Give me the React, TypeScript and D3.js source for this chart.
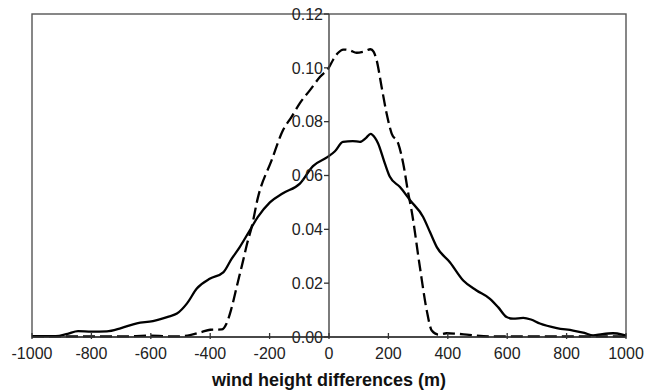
import * as d3 from "d3"

// wind height difference (m) -> density, solid curve
const solidX = [-1000, -920, -880, -845, -800, -748, -700, -647, -593, -540, -512, -478, -445, -400, -356, -328, -300, -270, -240, -199, -155, -98, -54, -3, 20, 47, 80, 104, 125, 140, 155, 165, 188, 205, 239, 273, 317, 340, 363, 407, 452, 497, 542, 570, 598, 620, 654, 680, 710, 767, 822, 860, 889, 920, 956, 985, 1000]
const solidY = [0.0003, 0.0003, 0.0012, 0.0022, 0.002, 0.0021, 0.0033, 0.0051, 0.0059, 0.0076, 0.0087, 0.0125, 0.018, 0.0217, 0.024, 0.029, 0.0335, 0.039, 0.0445, 0.05, 0.0534, 0.057, 0.0635, 0.067, 0.069, 0.0725, 0.0728, 0.0725, 0.074, 0.0755, 0.074, 0.072, 0.0645, 0.0595, 0.0557, 0.0508, 0.0446, 0.039, 0.0334, 0.0278, 0.021, 0.0173, 0.0142, 0.011, 0.0074, 0.0068, 0.0071, 0.0065, 0.005, 0.0033, 0.0024, 0.0015, 0.0006, 0.0011, 0.0014, 0.001, 0.0005]

// dashed curve
const dashX = [-1000, -700, -600, -520, -468, -430, -400, -361, -345, -330, -310, -290, -275, -260, -240, -193, -155, -126, -98, -64, -30, -2, 14, 30, 48, 70, 93, 115, 140, 150, 160, 177, 194, 211, 233, 250, 267, 278, 306, 329, 346, 368, 396, 430, 464, 542, 1000]
const dashY = [0.0003, 0.0002, 0.0005, 0.0002, 0.0007, 0.0018, 0.0027, 0.0028, 0.005, 0.01, 0.019, 0.028, 0.035, 0.041, 0.0515, 0.0657, 0.0768, 0.0818, 0.0869, 0.0917, 0.0967, 0.0998, 0.103, 0.1055, 0.1068, 0.1065, 0.1056, 0.106, 0.1069, 0.106, 0.103, 0.093, 0.083, 0.0756, 0.0719, 0.0644, 0.0533, 0.047, 0.026, 0.0099, 0.0024, 0.0009, 0.0014, 0.0012, 0.0009, 0.0002, 0.0002]

const xTicks = [-1000, -800, -600, -400, -200, 0, 200, 400, 600, 800, 1000]
const yTicks = [0, 0.02, 0.04, 0.06, 0.08, 0.1, 0.12]

const W = 656
const H = 390
const font = "'Liberation Sans', Arial, Helvetica, sans-serif"

export default function App() {
  const x = d3.scaleLinear().domain([-1000, 1000]).range([32, 626])
  const y = d3.scaleLinear().domain([0, 0.12]).range([337, 14])

  const line = d3
    .line<[number, number]>()
    .x((d) => x(d[0]))
    .y((d) => y(d[1]))
    .curve(d3.curveMonotoneX)

  const solid = solidX.map((v, i) => [v, solidY[i]] as [number, number])
  const dashed = dashX.map((v, i) => [v, dashY[i]] as [number, number])

  return (
    <svg width={W} height={H} style={{ position: "absolute", left: 0, top: 0, background: "#fff" }} fontFamily={font}>
      {/* frame */}
      <rect x={x(-1000)} y={y(0.12)} width={x(1000) - x(-1000)} height={y(0) - y(0.12)} fill="none" stroke="#555" strokeWidth={1.4} />

      {/* curves */}
      <path d={line(solid) ?? ""} fill="none" stroke="#000" strokeWidth={2.3} />
      <path d={line(dashed) ?? ""} fill="none" stroke="#000" strokeWidth={2.3} strokeDasharray="12,5" />

      {/* y axis through zero */}
      <line x1={x(0)} x2={x(0)} y1={y(0.12)} y2={y(0)} stroke="#444" strokeWidth={1.4} />
      {yTicks.map((t) => (
        <g key={t}>
          <line x1={x(0) - 5} x2={x(0)} y1={y(t)} y2={y(t)} stroke="#333" strokeWidth={1.3} />
          <text x={x(0) - 6} y={y(t)} dy="0.36em" textAnchor="end" fontSize={16} fill="#222">
            {d3.format(".2f")(t)}
          </text>
        </g>
      ))}

      {/* x axis */}
      <line x1={x(-1000)} x2={x(1000)} y1={y(0)} y2={y(0)} stroke="#333" strokeWidth={1.4} />
      {xTicks.map((t) => (
        <g key={t}>
          <line x1={x(t)} x2={x(t)} y1={y(0) - 4} y2={y(0) + 2} stroke="#333" strokeWidth={1.3} />
          <text x={x(t)} y={359} textAnchor="middle" fontSize={16} fill="#222">
            {t}
          </text>
        </g>
      ))}

      <text x={x(0)} y={386} textAnchor="middle" fontSize={18} fontWeight="bold" fill="#111">
        wind height differences (m)
      </text>
    </svg>
  )
}
